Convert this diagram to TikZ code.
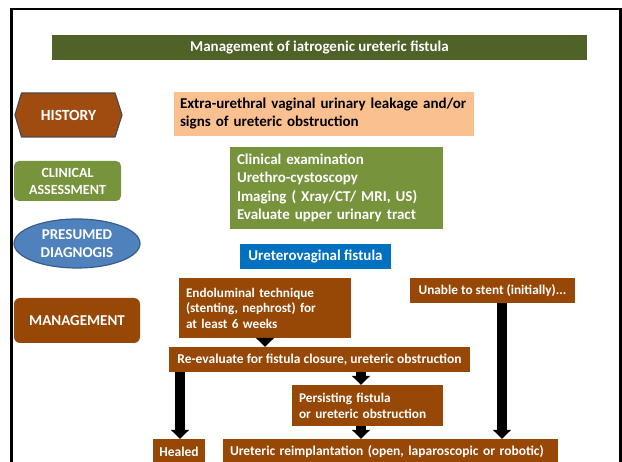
\documentclass[tikz,border=0pt]{standalone}
\usepackage{fontspec}
\setmainfont{Carlito}
\usetikzlibrary{arrows.meta,shapes.geometric}
\definecolor{titlegreen}{HTML}{4F6228}
\definecolor{peach}{HTML}{FAC090}
\definecolor{midgreen}{HTML}{77933C}
\definecolor{ellblue}{HTML}{4F81BD}
\definecolor{ellborder}{HTML}{385D8A}
\definecolor{boxblue}{HTML}{0070C0}
\definecolor{brownbox}{HTML}{974806}
\definecolor{hexbrown}{HTML}{A04C10}
\definecolor{hexborder}{HTML}{4A4A52}
\tikzset{
  plainbox/.style={rectangle, inner sep=0pt, font=\bfseries},
  leftbox/.style={rectangle, inner ysep=0pt, align=left, font=\bfseries},
  bigarrow/.style={line width=10pt, -{Triangle[width=18pt,length=9pt]}},
}
\begin{document}
\begin{tikzpicture}[x=1pt,y=-1pt]
\useasboundingbox (0,0) rectangle (622,462);
\fill[white] (0,0) rectangle (622,462);
% frame
\draw[line width=2.5pt] (11.5,470) -- (11.5,9) -- (620.5,9) -- (620.5,470);
% title
\node[plainbox, fill=titlegreen, text=white, minimum width=535pt, minimum height=25pt, font=\bfseries\fontsize{15}{18}\selectfont] (title) at (319.5,47.5) {Management of iatrogenic ureteric fistula};
% left labels
\draw[fill=hexbrown, draw=hexborder, line width=1.2pt, line join=round] (15,115) -- (21.5,93) -- (115,93) -- (122,115) -- (115,137) -- (21.5,137) -- cycle;
\node[plainbox, text=white, font=\bfseries\fontsize{15.5}{18}\selectfont] (history) at (68.5,115) {HISTORY};
\node[plainbox, fill=midgreen, text=white, rounded corners=5pt, minimum width=107pt, minimum height=40pt, align=center, font=\bfseries\fontsize{14}{17}\selectfont] (clinical) at (67.5,181) {CLINICAL\\ASSESSMENT};
\node[ellipse, fill=ellblue, draw=ellborder, line width=1.2pt, inner sep=0pt, minimum width=126pt, minimum height=49pt, text=white, align=center, font=\bfseries\fontsize{15}{17.5}\selectfont] (presumed) at (77,243.5) {PRESUMED\\DIAGNOGIS};
\node[plainbox, fill=brownbox, text=white, rounded corners=6pt, minimum width=126pt, minimum height=45pt, font=\bfseries\fontsize{15}{18}\selectfont] (management) at (77,320.5) {MANAGEMENT};
% right column
\node[leftbox, fill=peach, text=black, minimum height=44pt, text width=288pt, inner xsep=6pt, font=\bfseries\fontsize{15}{18}\selectfont] (hist) at (324,114) {Extra-urethral vaginal urinary leakage and/or\\signs of ureteric obstruction};
\node[leftbox, fill=midgreen, text=white, minimum height=82pt, text width=199pt, inner xsep=7pt, font=\bfseries\fontsize{15}{18.5}\selectfont] (clin) at (336.5,188) {Clinical examination\\Urethro-cystoscopy\\Imaging ( Xray/CT/ MRI, US)\\Evaluate upper urinary tract};
\node[plainbox, fill=boxblue, text=white, minimum width=151pt, minimum height=25pt, font=\bfseries\fontsize{15}{18}\selectfont] (diag) at (315.5,256.5) {Ureterovaginal fistula};
\node[leftbox, fill=brownbox, text=white, minimum height=60pt, text width=158pt, inner xsep=7pt, font=\bfseries\fontsize{13.2}{15.5}\selectfont] (endo) at (265,308) {Endoluminal technique\\(stenting, nephrost) for\\at least 6 weeks};
\node[plainbox, fill=brownbox, text=white, minimum width=165pt, minimum height=25pt, font=\bfseries\fontsize{13.3}{16}\selectfont] (unable) at (492.5,290.5) {Unable to stent (initially)...};
\node[plainbox, fill=brownbox, text=white, minimum width=301pt, minimum height=25pt, font=\bfseries\fontsize{13.5}{16}\selectfont] (reeval) at (319.5,359.5) {Re-evaluate for fistula closure, ureteric obstruction};
\node[leftbox, fill=brownbox, text=white, minimum height=41pt, text width=137pt, inner xsep=7pt, font=\bfseries\fontsize{13.3}{16}\selectfont] (persist) at (367.5,405.5) {Persisting fistula\\or ureteric obstruction};
\node[plainbox, fill=brownbox, text=white, minimum width=52pt, minimum height=25pt, font=\bfseries\fontsize{13.5}{16}\selectfont] (healed) at (179,451.5) {Healed};
\node[leftbox, fill=brownbox, text=white, minimum height=25pt, text width=321pt, inner xsep=7pt, font=\bfseries\fontsize{13.5}{16}\selectfont] (reimpl) at (390.5,451.5) {Ureteric reimplantation (open, laparoscopic or robotic)};
% arrows
\draw[bigarrow] (endo.south -| 265,0) -- (reeval.north -| 265,0);
\draw[bigarrow] (reeval.south -| 361,0) -- (persist.north -| 361,0);
\draw[bigarrow] (persist.south -| 361,0) -- (reimpl.north -| 361,0);
\draw[bigarrow] (reeval.south -| 180,0) -- (healed.north -| 180,0);
\draw[bigarrow] (unable.south -| 502,0) -- (reimpl.north -| 502,0);
\end{tikzpicture}
\end{document}
